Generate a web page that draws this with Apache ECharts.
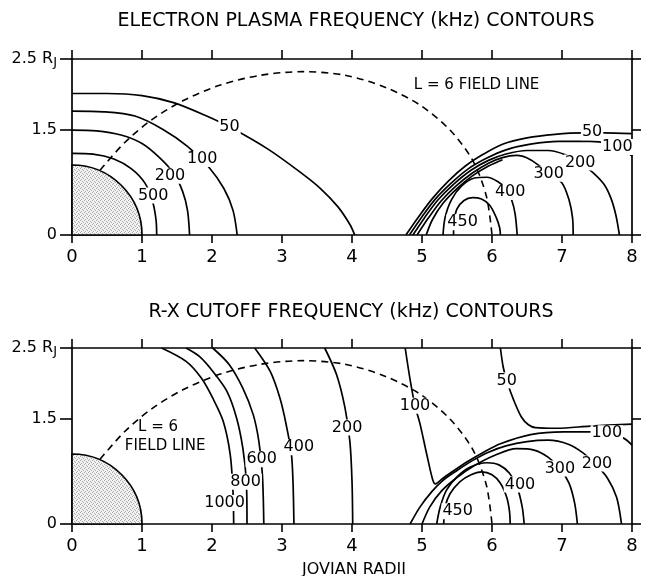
<!DOCTYPE html>
<html>
<head>
<meta charset="utf-8">
<script src="https://cdn.jsdelivr.net/npm/echarts@6/dist/echarts.min.js"></script>
<style>
html,body{margin:0;padding:0;background:#fff;}
#chart{width:647px;height:576px;}
</style>
</head>
<body>
<div id="chart"></div>
<script>
// ---------- tick labels ----------
const xTicks = [0, 1, 2, 3, 4, 5, 6, 7, 8];
const xTickLabels = ['0', '1', '2', '3', '4', '5', '6', '7', '8'];
const yTicks = [0, 1.5, 2.5];
const yTickLabels = ['0', '1.5', '2.5 R'];
const yTickSubs = ['', '', 'J'];

const titles = ['ELECTRON PLASMA FREQUENCY (kHz) CONTOURS', 'R-X CUTOFF FREQUENCY (kHz) CONTOURS'];
const xAxisTitle = 'JOVIAN RADII';

// planet (radius in Jovian radii)
const planet = [[0, 0, 1]];

// L = 6 dipole field line (dashed)
const fieldLine = [[0.40,0.92],[0.75,1.31],[1.13,1.63],[1.59,1.91],[2.12,2.13],[2.70,2.27],[3.30,2.32],[3.90,2.27],[4.47,2.10],[4.98,1.84],[5.41,1.48],[5.73,1.05],[5.92,0.55],[6.0,0]];

// ---------- top panel: electron plasma frequency contours ----------
const ep500 = [[0,1.16],[0.3,1.15],[0.6,1.08],[0.85,0.94],[1.04,0.74],[1.15,0.48],[1.2,0.22],[1.21,0]];
const ep200 = [[0,1.49],[0.35,1.48],[0.7,1.42],[1.0,1.3],[1.25,1.1],[1.45,0.88],[1.58,0.62],[1.65,0.35],[1.68,0]];
const ep100 = [[0,1.76],[0.45,1.75],[0.9,1.69],[1.3,1.5],[1.65,1.26],[1.95,0.97],[2.17,0.66],[2.3,0.35],[2.36,0]];
const ep50 = [[0,2.01],[0.5,2.01],[1.0,1.98],[1.45,1.88],[1.9,1.7],[2.3,1.51],[2.8,1.22],[3.25,0.9],[3.55,0.66],[3.8,0.4],[3.97,0.15],[4.04,0]];
const ep50R = [[4.77,0],[4.96,0.27],[5.15,0.52],[5.38,0.77],[5.62,0.98],[5.88,1.15],[6.15,1.29],[6.5,1.38],[6.9,1.43],[7.3,1.45],[7.6,1.45],[8,1.44]];
const ep100R = [[4.82,0],[5.0,0.26],[5.19,0.51],[5.42,0.74],[5.66,0.94],[5.92,1.09],[6.2,1.21],[6.55,1.29],[6.95,1.33],[7.4,1.33],[7.65,1.3],[7.9,1.2],[8,1.12]];
const ep200R = [[4.87,0],[5.04,0.25],[5.23,0.5],[5.45,0.72],[5.7,0.92],[5.95,1.06],[6.2,1.15],[6.5,1.2],[6.8,1.2],[7.05,1.14],[7.26,1.03],[7.45,0.88],[7.6,0.72],[7.7,0.52],[7.77,0.28],[7.82,0]];
const ep300 = [[4.93,0],[5.09,0.24],[5.27,0.48],[5.48,0.69],[5.72,0.88],[5.95,1.02],[6.15,1.1],[6.35,1.13],[6.55,1.07],[6.81,0.88],[7.0,0.74],[7.1,0.5],[7.15,0.25],[7.16,0]];
const ep300b = [[5.06,0],[5.15,0.22],[5.3,0.45],[5.5,0.66],[5.72,0.84],[5.95,0.98],[6.15,1.07]];
const ep400 = [[5.3,0],[5.33,0.25],[5.42,0.5],[5.57,0.7],[5.75,0.81],[5.93,0.82],[6.08,0.76],[6.2,0.66],[6.28,0.5],[6.33,0.3],[6.36,0]];
const ep450 = [[5.45,0],[5.46,0.2],[5.5,0.37],[5.6,0.49],[5.72,0.53],[5.85,0.51],[5.97,0.42],[6.06,0.25],[6.11,0.1],[6.12,0]];
const topLabels = [[2.25,1.54,'50'],[1.86,1.08,'100'],[1.40,0.84,'200'],[1.16,0.56,'500'],
  [7.43,1.46,'50'],[7.79,1.25,'100'],[7.26,1.03,'200'],[6.81,0.87,'300'],[6.26,0.61,'400'],[5.58,0.18,'450']];
const topTexts = [[5.78,2.13,'L = 6 FIELD LINE']];

// ---------- bottom panel: R-X cutoff frequency contours ----------
const rx1000 = [[1.28,2.5],[1.63,2.31],[1.85,2.07],[2.01,1.79],[2.16,1.46],[2.26,0.99],[2.30,0.46],[2.31,0]];
const rx800 = [[1.63,2.5],[1.82,2.38],[2.01,2.17],[2.21,1.89],[2.35,1.51],[2.44,1.08],[2.49,0.61],[2.50,0]];
const rx600 = [[2.01,2.5],[2.25,2.26],[2.44,1.93],[2.59,1.55],[2.67,1.17],[2.72,0.70],[2.74,0]];
const rx400L = [[2.61,2.5],[2.83,2.17],[2.97,1.79],[3.06,1.41],[3.14,0.94],[3.17,0]];
const rx200L = [[3.61,2.5],[3.78,2.12],[3.90,1.65],[3.97,1.17],[4.0,0.61],[4.01,0]];
const rx50 = [[6.12,2.5],[6.16,2.23],[6.21,2.04],[6.31,1.76],[6.42,1.52],[6.52,1.41],[6.62,1.37],[6.93,1.36],[7.4,1.39],[8,1.42]];
const rx100 = [[4.76,2.5],[4.83,2.05],[4.9,1.68],[4.97,1.43],[5.07,0.98],[5.15,0.64],[5.19,0.57],[5.3,0.65],[5.4,0.72],[5.64,0.88],[5.88,1.02],[6.12,1.14],[6.55,1.27],[7.02,1.31],[7.4,1.31],[7.64,1.29],[7.88,1.22],[8,1.12]];
const rx200R = [[4.83,0],[4.97,0.24],[5.14,0.46],[5.3,0.62],[5.5,0.76],[5.72,0.9],[5.95,1.02],[6.2,1.11],[6.5,1.17],[6.8,1.19],[7.1,1.13],[7.3,1.01],[7.47,0.86],[7.65,0.65],[7.78,0.38],[7.85,0]];
const rx300 = [[5.0,0],[5.11,0.24],[5.28,0.47],[5.5,0.66],[5.75,0.83],[6.05,0.98],[6.35,1.07],[6.6,1.05],[6.8,0.95],[6.97,0.79],[7.1,0.58],[7.18,0.3],[7.22,0]];
const rx400R = [[5.21,0],[5.26,0.24],[5.35,0.48],[5.5,0.67],[5.69,0.81],[5.93,0.87],[6.1,0.84],[6.25,0.72],[6.36,0.52],[6.43,0.25],[6.46,0]];
const rx450 = [[5.31,0],[5.33,0.24],[5.4,0.43],[5.54,0.6],[5.7,0.7],[5.85,0.74],[6.0,0.7],[6.12,0.58],[6.21,0.38],[6.25,0.18],[6.26,0]];
const bottomLabels = [[2.18,0.30,'1000'],[2.48,0.60,'800'],[2.71,0.92,'600'],[3.24,1.09,'400'],[3.93,1.37,'200'],
  [4.90,1.68,'100'],[6.21,2.04,'50'],[7.64,1.29,'100'],[7.50,0.86,'200'],[6.97,0.79,'300'],[6.40,0.56,'400'],[5.51,0.18,'450']];
const bottomTexts = [[1.23,1.37,'L = 6'],[1.33,1.10,'FIELD LINE']];

// ---------- chart ----------
const FONT = '"DejaVu Sans", sans-serif';

// stipple pattern for the planet
const pc = document.createElement('canvas');
pc.width = 4; pc.height = 4;
const pctx = pc.getContext('2d');
pctx.fillStyle = '#f2f2f2'; pctx.fillRect(0, 0, 4, 4);
pctx.fillStyle = '#a8a8a8';
[[0,0],[2,1],[1,3],[3,2]].forEach(p => pctx.fillRect(p[0], p[1], 1, 1));
const stipple = { image: pc, repeat: 'repeat' };

const grids = [
  { left: 72, top: 59, width: 560, height: 176 },
  { left: 72, top: 348, width: 560, height: 176 }
];

const xAxes = [], yAxes = [];
grids.forEach((g, gi) => {
  xAxes.push({
    type: 'value', gridIndex: gi, position: 'bottom', min: 0, max: 8, interval: 1,
    axisLine: { show: true, onZero: false, lineStyle: { color: '#000', width: 1.7 } },
    axisTick: { show: true, inside: false, length: 8, customValues: xTicks, lineStyle: { color: '#000', width: 1.6 } },
    axisLabel: { show: true, customValues: xTicks, margin: 13, color: '#000', fontSize: 18, fontFamily: FONT,
      formatter: v => xTickLabels[xTicks.indexOf(v)] },
    splitLine: { show: false }
  });
  xAxes.push({
    type: 'value', gridIndex: gi, position: 'top', min: 0, max: 8, interval: 1,
    axisLine: { show: true, onZero: false, lineStyle: { color: '#000', width: 1.7 } },
    axisTick: { show: true, inside: false, length: 9, customValues: xTicks, lineStyle: { color: '#000', width: 1.6 } },
    axisLabel: { show: false }, splitLine: { show: false }
  });
  yAxes.push({
    type: 'value', gridIndex: gi, position: 'left', min: 0, max: 2.5, interval: 0.5,
    axisLine: { show: true, onZero: false, lineStyle: { color: '#000', width: 1.7 } },
    axisTick: { show: true, inside: false, length: 12, customValues: yTicks, lineStyle: { color: '#000', width: 1.6 } },
    axisLabel: { show: true, customValues: yTicks, margin: 15,
      formatter: v => {
        const i = yTicks.indexOf(v);
        let s = '{a|' + yTickLabels[i] + '}';
        if (yTickSubs[i]) s += '{s|' + yTickSubs[i] + '}';
        return s;
      },
      rich: {
        a: { fontSize: 16, fontFamily: FONT, color: '#000', lineHeight: 20 },
        s: { fontSize: 13, fontFamily: FONT, color: '#000', lineHeight: 20, padding: [22, 0, 0, 0], verticalAlign: 'bottom' }
      }
    },
    splitLine: { show: false }
  });
  yAxes.push({
    type: 'value', gridIndex: gi, position: 'right', min: 0, max: 2.5, interval: 0.5,
    axisLine: { show: true, onZero: false, lineStyle: { color: '#000', width: 1.7 } },
    axisTick: { show: true, inside: false, length: 9, customValues: yTicks, lineStyle: { color: '#000', width: 1.6 } },
    axisLabel: { show: false }, splitLine: { show: false }
  });
});

function contour(data, gi) {
  return { type: 'line', xAxisIndex: gi * 2, yAxisIndex: gi * 2, data: data, symbol: 'none', showSymbol: false,
    smooth: 0.3, silent: true, z: 3, lineStyle: { color: '#000', width: 1.7 } };
}
function dashed(data, gi) {
  return { type: 'line', xAxisIndex: gi * 2, yAxisIndex: gi * 2, data: data, symbol: 'none', showSymbol: false,
    smooth: 0.3, silent: true, z: 2, lineStyle: { color: '#000', width: 1.6, type: [7, 5] } };
}
function labels(arr, gi, bg, size) {
  return { type: 'scatter', xAxisIndex: gi * 2, yAxisIndex: gi * 2, symbolSize: 0, silent: true, z: 5,
    itemStyle: { opacity: 1 },
    data: arr.map(a => ({ value: [a[0], a[1]], name: a[2] })),
    label: { show: true, position: 'inside', formatter: '{b}', color: '#000', opacity: 1, fontSize: size, fontFamily: FONT,
      backgroundColor: bg, padding: [0, 1] } };
}
function planetSeries(gi) {
  return { type: 'custom', xAxisIndex: gi * 2, yAxisIndex: gi * 2, data: planet, silent: true, z: 1,
    renderItem: (params, api) => {
      const c = api.coord([api.value(0), api.value(1)]);
      const r = api.size([api.value(2), 0])[0];
      return { type: 'sector', shape: { cx: c[0], cy: c[1], r0: 0, r: r, startAngle: -Math.PI / 2, endAngle: 0, clockwise: true },
        style: { fill: stipple, stroke: '#000', lineWidth: 1.7 } };
    } };
}

const series = [
  planetSeries(0), dashed(fieldLine, 0),
  contour(ep500, 0), contour(ep200, 0), contour(ep100, 0), contour(ep50, 0),
  contour(ep50R, 0), contour(ep100R, 0), contour(ep200R, 0), contour(ep300, 0), contour(ep300b, 0),
  contour(ep400, 0), contour(ep450, 0),
  labels(topLabels, 0, '#fff', 16), labels(topTexts, 0, 'transparent', 15),
  planetSeries(1), dashed(fieldLine, 1),
  contour(rx1000, 1), contour(rx800, 1), contour(rx600, 1), contour(rx400L, 1), contour(rx200L, 1),
  contour(rx50, 1), contour(rx100, 1), contour(rx200R, 1), contour(rx300, 1), contour(rx400R, 1), contour(rx450, 1),
  labels(bottomLabels, 1, '#fff', 16), labels(bottomTexts, 1, 'transparent', 15)
];

const chart = echarts.init(document.getElementById('chart'), null, { renderer: 'canvas' });
chart.setOption({
  animation: false,
  backgroundColor: '#fff',
  grid: grids,
  xAxis: xAxes,
  yAxis: yAxes,
  series: series,
  graphic: [
    { type: 'text', x: 356, y: 21, style: { text: titles[0], fontSize: 19, fontFamily: FONT, fill: '#000', align: 'center', verticalAlign: 'middle' } },
    { type: 'text', x: 351, y: 312, style: { text: titles[1], fontSize: 19, fontFamily: FONT, fill: '#000', align: 'center', verticalAlign: 'middle' } },
    { type: 'text', x: 354, y: 570, style: { text: xAxisTitle, fontSize: 16, fontFamily: FONT, fill: '#000', align: 'center', verticalAlign: 'middle' } }
  ]
});
</script>
</body>
</html>
